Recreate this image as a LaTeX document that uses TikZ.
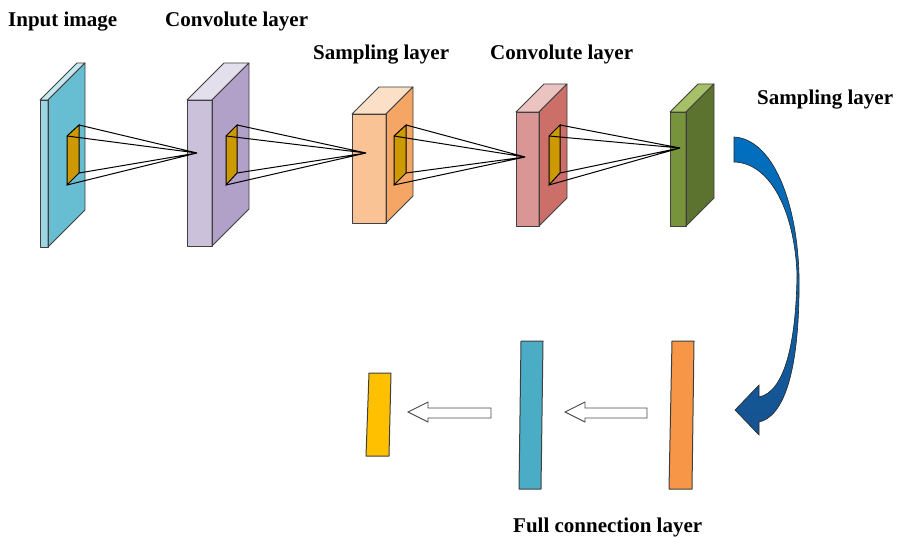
\documentclass[tikz,border=0pt]{standalone}
\usepackage{fontspec}
\setmainfont{Liberation Serif}
\definecolor{edge}{HTML}{3F3F3F}
\definecolor{kernel}{HTML}{CC9900}
\definecolor{inFront}{HTML}{9ED5E3}
\definecolor{inTop}{HTML}{C8E8F0}
\definecolor{inSide}{HTML}{67BDD2}
\definecolor{cvFront}{HTML}{CCC1DA}
\definecolor{cvTop}{HTML}{E4DFEC}
\definecolor{cvSide}{HTML}{B1A0C7}
\definecolor{smFront}{HTML}{FAC396}
\definecolor{smTop}{HTML}{FCDFC7}
\definecolor{smSide}{HTML}{F5A665}
\definecolor{cbFront}{HTML}{D99694}
\definecolor{cbTop}{HTML}{EBC3C1}
\definecolor{cbSide}{HTML}{CC6F68}
\definecolor{sbFront}{HTML}{77933C}
\definecolor{sbTop}{HTML}{A6C068}
\definecolor{sbSide}{HTML}{5C7330}
\definecolor{flowTop}{HTML}{0070C0}
\definecolor{flowBot}{HTML}{17528F}
\definecolor{barY}{HTML}{FFC000}
\definecolor{barB}{HTML}{4BACC6}
\definecolor{barO}{HTML}{F79646}
\tikzset{
  face/.style={draw=edge, line width=0.8pt, line join=round},
  ray/.style={draw=black, line width=1pt},
  lbl/.style={anchor=base west, inner sep=0pt, font=\bfseries\fontsize{21}{25}\selectfont},
  bar/.style={draw=edge, line width=1pt, line join=round},
  hollow/.style={draw=black!70, fill=white, line width=0.9pt, line join=miter},
}
% layer slab: #1 name, front face (#2,#3)-(#4,#5), depth #6, colours #7 front, #8 top, #9 side
\newcommand\layerslab[9]{%
  \fill[#7] (#2,#3) rectangle (#4,#5);
  \filldraw[face, fill=#8] (#2,#3) -- ({#2+#6},{#3-#6}) -- ({#4+#6},{#3-#6}) -- (#4,#3) -- cycle;
  \filldraw[face, fill=#9] (#4,#3) -- ({#4+#6},{#3-#6}) -- ({#4+#6},{#5-#6}) -- (#4,#5) -- cycle;
  \draw[face] (#2,#3) rectangle (#4,#5);
  \coordinate (#1) at ({(#2+#4)/2},{(#3+#5)/2});
}
% receptive field: #1 name prefix, front edge x #2, back edge x #3, apex (#4,#5)
\newcommand\field[5]{%
  \coordinate (#1a) at (#3,125);
  \coordinate (#1b) at (#2,136);
  \coordinate (#1c) at (#3,173);
  \coordinate (#1d) at (#2,185);
  \coordinate (#1p) at (#4,#5);
  \filldraw[ray, fill=kernel] (#1b) -- (#1a) -- (#1c) -- (#1d) -- cycle;
  \draw[ray] (#1a) -- (#1p) -- (#1b);
  \draw[ray] (#1c) -- (#1p) -- (#1d);
}
\begin{document}
\begin{tikzpicture}[x=1pt, y=-1pt]
\useasboundingbox (0,0) rectangle (899,537);

% feature extraction stages
\layerslab{input}{40}{100}{48}{247}{37}{inFront}{inTop}{inSide}
\layerslab{conv1}{187}{100}{212}{246}{37}{cvFront}{cvTop}{cvSide}
\layerslab{pool1}{352}{114}{386}{223}{27}{smFront}{smTop}{smSide}
\layerslab{conv2}{516}{112}{539}{226}{28}{cbFront}{cbTop}{cbSide}
\layerslab{pool2}{670}{112}{686}{226}{28}{sbFront}{sbTop}{sbSide}

\field{k1}{67}{79}{197}{153}
\field{k2}{226}{237}{366}{153}
\field{k3}{394}{406}{525}{157}
\field{k4}{549}{560}{680}{148}

% curved transfer arrow to the dense layers
\shade[top color=flowTop, bottom color=flowBot, draw=black!85, line width=0.6pt, line join=miter]
  (734,137) .. controls (772,139) and (797,200) .. (799,275)
  .. controls (800,350) and (790,415) .. (759,422)
  -- (759,435) -- (735,410) -- (759,385) -- (759,397)
  .. controls (784,392) and (796,345) .. (797,275)
  .. controls (795,215) and (772,163) .. (734,162) -- cycle;

% fully connected vectors
\filldraw[bar, fill=barO] (672,341) -- (694,341) -- (692,489) -- (669,489) -- cycle;
\filldraw[bar, fill=barB] (521,341) -- (543,341) -- (541,489) -- (519,489) -- cycle;
\filldraw[bar, fill=barY] (369,373) -- (391,373) -- (389,456) -- (366,456) -- cycle;
\coordinate (fcO) at (681,415);
\coordinate (fcB) at (531,415);
\coordinate (fcY) at (378,415);

% hollow block arrows between the vectors
\filldraw[hollow] (647,408) -- (585,408) -- (585,402) -- (565,412) -- (585,422) -- (585,418) -- (647,418) -- cycle;
\filldraw[hollow] (491,408) -- (428,408) -- (428,402) -- (408,412) -- (428,422) -- (428,418) -- (491,418) -- cycle;

% captions
\node[lbl] (tIn) at (8,27) {Input image};
\node[lbl] (tC1) at (165,27) {Convolute layer};
\node[lbl] (tS1) at (313,60) {Sampling layer};
\node[lbl] (tC2) at (490,60) {Convolute layer};
\node[lbl] (tS2) at (757,105) {Sampling layer};
\node[lbl] (tFC) at (513,532) {Full connection layer};
\end{tikzpicture}
\end{document}
